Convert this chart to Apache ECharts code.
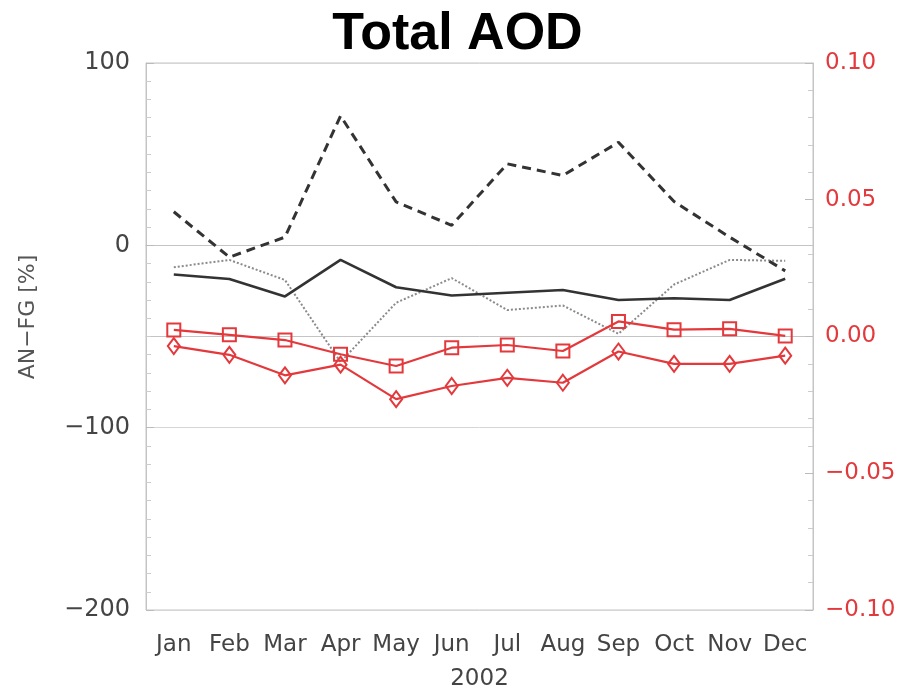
<!DOCTYPE html>
<html>
<head>
<meta charset="utf-8">
<script src="https://cdn.jsdelivr.net/npm/echarts@6/dist/echarts.min.js"></script>
<style>html,body{margin:0;padding:0;background:#fff;}#c{width:915px;height:696px;}</style>
</head>
<body>
<div id="c"></div>
<script>
const months = ['Jan','Feb','Mar','Apr','May','Jun','Jul','Aug','Sep','Oct','Nov','Dec'];
// left axis (AN-FG [%])
const solidBlack = [-16, -18.5, -28, -8, -23, -27.5, -26, -24.5, -30, -29, -30, -18.3];
const dashedBlack = [18.4, -6.5, 4.5, 71, 23.8, 11, 44.7, 38.3, 56.5, 24, 4.5, -14];
const dottedGrey = [-12, -8, -19, -64, -31.5, -18, -35.5, -33, -48.5, -21.5, -8, -8.5];
// right axis
const redSquares = [0.0024, 0.0006, -0.0013, -0.0065, -0.0108, -0.0041, -0.0031, -0.0053, 0.0055, 0.0025, 0.0028, 0.0002];
const redDiamonds = [-0.0035, -0.0067, -0.0142, -0.0103, -0.0229, -0.0181, -0.0151, -0.0169, -0.0055, -0.0100, -0.0100, -0.0070];
const leftTicks = [-200, -100, 0, 100];
const rightTicks = [-0.10, -0.05, 0.00, 0.05, 0.10];

const red = '#e3393c';
const fmtMinus = s => s.replace('-', '\u2212');

const chart = echarts.init(document.getElementById('c'));
chart.setOption({
  animation: false,
  backgroundColor: '#fff',
  title: {
    text: 'Total AOD', left: 'center', top: 4,
    textStyle: {fontFamily: 'Liberation Sans', fontWeight: 'bold', fontSize: 52, color: '#000'}
  },
  grid: {left: 146, right: 102, top: 63, bottom: 83, show: true, borderColor: '#c4c4c4', borderWidth: 1},
  graphic: [{
    type: 'text', x: 28, y: 317, rotation: Math.PI / 2,
    style: {text: 'AN\u2212FG [%]', fontFamily: 'DejaVu Sans', fontSize: 22, fill: '#555', align: 'center', verticalAlign: 'middle'}
  }],
  xAxis: [{
    type: 'category', data: months, boundaryGap: true, position: 'bottom',
    name: '2002', nameLocation: 'middle', nameGap: 58,
    nameTextStyle: {fontFamily: 'DejaVu Sans', fontSize: 23, color: '#444'},
    axisLine: {lineStyle: {color: '#c4c4c4'}},
    axisTick: {inside: true, alignWithLabel: true, length: 9, lineStyle: {color: '#bbb'}},
    axisLabel: {fontFamily: 'DejaVu Sans', fontSize: 23, color: '#444', margin: 24, interval: 0},
    splitLine: {show: false}
  }, {
    type: 'category', data: months, boundaryGap: true, position: 'top',
    axisLine: {lineStyle: {color: '#c4c4c4'}},
    axisTick: {inside: true, alignWithLabel: true, length: 9, lineStyle: {color: '#bbb'}},
    axisLabel: {show: false}, splitLine: {show: false}
  }],
  yAxis: [{
    type: 'value', min: leftTicks[0], max: leftTicks[leftTicks.length - 1], interval: 100, position: 'left',
    axisLine: {show: true, lineStyle: {color: '#c4c4c4'}},
    axisTick: {show: true, inside: true, length: 8, lineStyle: {color: '#bbb'}},
    minorTick: {show: true, splitNumber: 10, length: 5, lineStyle: {color: '#ccc'}},
    axisLabel: {fontFamily: 'DejaVu Sans', fontSize: 24, color: '#444', margin: 16,
      formatter: v => fmtMinus(String(v))},
    splitLine: {show: true, lineStyle: {color: '#d6d6d6', width: 1}}
  }, {
    type: 'value', min: rightTicks[0], max: rightTicks[rightTicks.length - 1], interval: 0.05, position: 'right',
    axisLine: {show: true, lineStyle: {color: '#c4c4c4'}},
    axisTick: {show: true, inside: true, length: 8, lineStyle: {color: '#bbb'}},
    minorTick: {show: true, splitNumber: 5, length: 5, lineStyle: {color: '#ccc'}},
    axisLabel: {fontFamily: 'DejaVu Sans', fontSize: 23, color: red, margin: 12,
      formatter: v => fmtMinus(v.toFixed(2))},
    splitLine: {show: false}
  }],
  series: [{
    name: 'solid', type: 'line', data: solidBlack, yAxisIndex: 0, symbol: 'none',
    lineStyle: {color: '#333', width: 2.6}, z: 3
  }, {
    name: 'dashed', type: 'line', data: dashedBlack, yAxisIndex: 0, symbol: 'none',
    lineStyle: {color: '#333', width: 3, type: [9, 6]}, z: 3
  }, {
    name: 'dotted', type: 'line', data: dottedGrey, yAxisIndex: 0, symbol: 'none',
    lineStyle: {color: '#8a8a8a', width: 2, type: [2, 2]}, z: 2
  }, {
    name: 'squares', type: 'line', data: redSquares, yAxisIndex: 1, symbol: 'rect', symbolSize: 13,
    lineStyle: {color: red, width: 2.2}, itemStyle: {color: 'rgba(255,255,255,0)', borderColor: red, borderWidth: 2}, z: 4
  }, {
    name: 'diamonds', type: 'line', data: redDiamonds, yAxisIndex: 1, symbol: 'diamond', symbolSize: [12, 16],
    lineStyle: {color: red, width: 2.2}, itemStyle: {color: 'rgba(255,255,255,0)', borderColor: red, borderWidth: 2}, z: 4
  }]
});
</script>
</body>
</html>
